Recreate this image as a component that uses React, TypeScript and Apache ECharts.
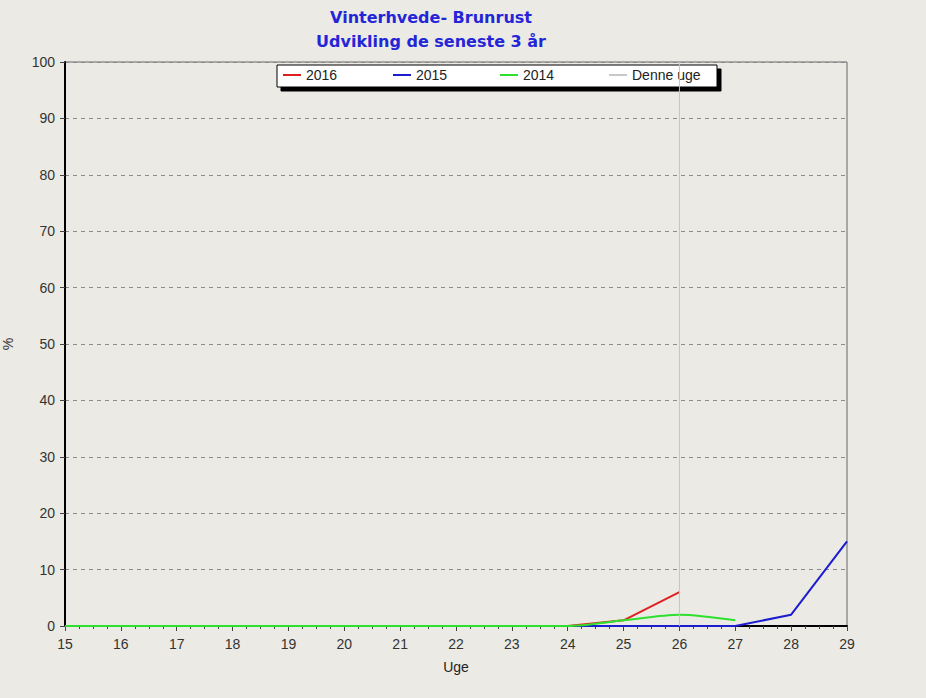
import React, { useEffect, useRef } from "react";
import * as echarts from "echarts";

const weeks = [15, 16, 17, 18, 19, 20, 21, 22, 23, 24, 25, 26, 27, 28, 29];
const yTicks = [0, 10, 20, 30, 40, 50, 60, 70, 80, 90, 100];
const s2016 = [0, 0, 0, 0, 0, 0, 0, 0, 0, 0, 1, 6];
const s2015 = [0, 0, 0, 0, 0, 0, 0, 0, 0, 0, 0, 0, 0, 2, 15];
const s2014 = [0, 0, 0, 0, 0, 0, 0, 0, 0, 0, 1, 2, 1];
const thisWeek = 26;
const titleLines = ["Vinterhvede- Brunrust", "Udvikling de seneste 3 år"];
const legendNames = ["2016", "2015", "2014", "Denne uge"];
const legendLefts = [283, 393, 500, 609];

const FONT = "'Liberation Sans', Arial, sans-serif";
const TITLE_FONT = "'DejaVu Sans', Verdana, sans-serif";

export default function App() {
  const ref = useRef<HTMLDivElement>(null);
  useEffect(() => {
    if (!ref.current) return;
    const chart = echarts.init(ref.current, undefined, { renderer: "svg" });
    const pairs = (arr: number[]) => arr.map((v, i) => [weeks[i], v]);
    const lineStyle = (c: string) => ({ color: c, width: 2 });
    chart.setOption({
      animation: false,
      backgroundColor: "#ebeae5",
      textStyle: { fontFamily: FONT },
      title: {
        text: titleLines.join("\n"),
        left: 426,
        top: 0,
        textAlign: "center",
        textStyle: {
          color: "#2525d8",
          fontSize: 16,
          fontWeight: "bold",
          fontFamily: TITLE_FONT,
          lineHeight: 24,
        },
      },
      graphic: [
        {
          type: "rect",
          z: 1,
          shape: { x: 277, y: 65, width: 440, height: 22 },
          style: {
            fill: "#ffffff",
            stroke: "#000000",
            lineWidth: 1,
            shadowColor: "#000000",
            shadowOffsetX: 4,
            shadowOffsetY: 4,
            shadowBlur: 0,
          },
        },
      ],
      legend: legendNames.map((n, i) => ({
        top: 68,
        left: legendLefts[i],
        padding: 0,
        itemWidth: 18,
        itemHeight: 2,
        z: 5,
        textStyle: { fontSize: 14, color: "#222", fontFamily: FONT },
        data: [{ name: n, icon: "rect" }],
      })),
      grid: {
        left: 65,
        right: 79,
        top: 62,
        bottom: 72,
        show: true,
        borderColor: "#666",
        borderWidth: 1,
        backgroundColor: "transparent",
        outerBoundsMode: "none",
        containLabel: false,
      },
      xAxis: {
        type: "value",
        min: 15,
        max: 29,
        interval: 1,
        name: "Uge",
        nameLocation: "middle",
        nameGap: 34,
        nameTextStyle: { fontSize: 14, color: "#222", fontFamily: FONT },
        axisLine: { show: true, onZero: false, lineStyle: { color: "#000", width: 2 } },
        axisTick: { show: true, length: 5, lineStyle: { color: "#444" } },
        minorTick: { show: true, splitNumber: 4, length: 3, lineStyle: { color: "#444" } },
        axisLabel: { fontSize: 14, color: "#333", margin: 11, fontFamily: FONT },
        splitLine: { show: false },
      },
      yAxis: {
        type: "value",
        min: 0,
        max: 100,
        interval: 10,
        name: "%",
        nameLocation: "middle",
        nameRotate: 90,
        nameGap: 50,
        nameTextStyle: { fontSize: 14, color: "#333", fontFamily: FONT },
        axisLine: { show: true, lineStyle: { color: "#000", width: 2 } },
        axisTick: { show: true, length: 5, lineStyle: { color: "#444" } },
        axisLabel: {
          fontSize: 14,
          color: "#333",
          margin: 10,
          fontFamily: FONT,
          formatter: (v: number) => (yTicks.includes(v) ? String(v) : ""),
        },
        splitLine: { show: true, lineStyle: { color: "#8a8a8a", type: [4, 4], width: 1 } },
      },
      series: [
        {
          name: "2016",
          type: "line",
          data: pairs(s2016),
          symbol: "none",
          color: "#e02020",
          lineStyle: lineStyle("#e02020"),
          z: 3,
        },
        {
          name: "2015",
          type: "line",
          data: pairs(s2015),
          symbol: "none",
          color: "#1c1cd0",
          lineStyle: lineStyle("#1c1cd0"),
          z: 3,
        },
        {
          name: "2014",
          type: "line",
          data: pairs(s2014),
          symbol: "none",
          smooth: 0.3,
          color: "#2ee02e",
          lineStyle: lineStyle("#2ee02e"),
          z: 4,
        },
        {
          name: "Denne uge",
          type: "line",
          data: [
            [thisWeek, 0],
            [thisWeek, 100],
          ],
          symbol: "none",
          color: "#c8c8c8",
          lineStyle: { color: "#c4c4c4", width: 1 },
          z: 10,
        },
      ],
    });
    return () => chart.dispose();
  }, []);
  return (
    <div
      ref={ref}
      style={{ position: "fixed", left: 0, top: 0, width: 926, height: 698 }}
    />
  );
}
